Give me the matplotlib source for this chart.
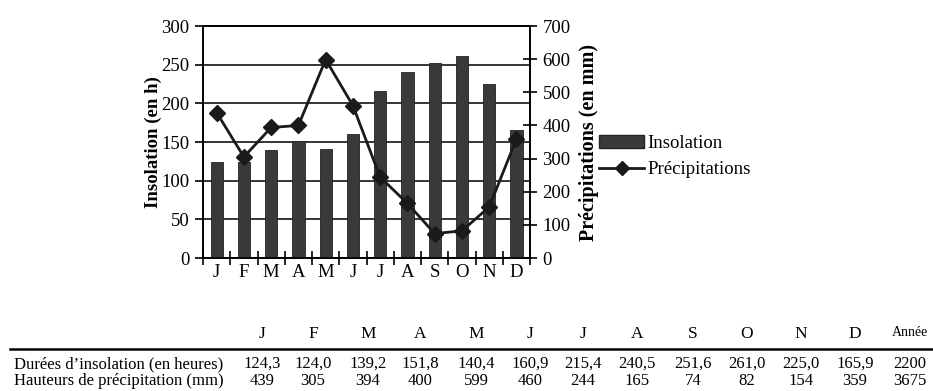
import numpy as np
import matplotlib
matplotlib.use("Agg")
import matplotlib.pyplot as plt
from matplotlib.lines import Line2D
from matplotlib.patches import Patch

months = ["J", "F", "M", "A", "M", "J", "J", "A", "S", "O", "N", "D"]
insolation = [124.3, 124.0, 139.2, 151.8, 140.4, 160.9, 215.4, 240.5, 251.6, 261.0, 225.0, 165.9]
precipitation = [439, 305, 394, 400, 599, 460, 244, 165, 74, 82, 154, 359]
total_insolation = "2200"
total_precipitation = "3675"

ins_labels = [f"{v:.1f}".replace(".", ",") for v in insolation]
pre_labels = [str(v) for v in precipitation]

plt.rcParams['font.family'] = ['Liberation Serif', 'DejaVu Serif']

fig = plt.figure(figsize=(9.33, 3.91), dpi=100)
ax = fig.add_axes([0.2176, 0.340, 0.3505, 0.5934])
ax2 = ax.twinx()

x = np.arange(len(months))
bar_col = "#3a3a3a"
ax.bar(x, insolation, width=0.45, color=bar_col, edgecolor="#222222", linewidth=0.6, zorder=3)
ax.set_xlim(-0.5, 11.5)
ax.set_ylim(0, 300)
ax.set_yticks(np.arange(0, 301, 50))
ax.yaxis.grid(True, color="black", linewidth=1.1, zorder=0)
ax.set_axisbelow(True)
ax.set_xticks(np.arange(-0.5, 12, 1))
ax.set_xticklabels([])
ax.set_xticks(x, minor=True)
ax.set_xticklabels(months, minor=True, fontsize=13.5)
ax.tick_params(axis="x", which="minor", length=0, pad=4)
ax.tick_params(axis="x", which="major", direction="inout", length=10, width=1.2)
ax.tick_params(axis="y", direction="out", length=6, width=1.2, labelsize=13.5, pad=4)
ax.set_ylabel("Insolation (en h)", fontsize=13.5, fontweight="bold", labelpad=-1)
for s in ax.spines.values():
    s.set_linewidth(1.2)

ax2.plot(x, precipitation, color="#1a1a1a", linewidth=2, marker="D", markersize=8, zorder=4)
ax2.set_ylim(0, 700)
ax2.set_yticks(np.arange(0, 701, 100))
ax2.tick_params(axis="y", direction="inout", length=10, width=1.2, labelsize=13.5, pad=4)
ax2.set_ylabel("Précipitations (en mm)", fontsize=14.5, fontweight="bold", labelpad=6)
for s in ax2.spines.values():
    s.set_linewidth(1.2)

handles = [Patch(facecolor=bar_col, edgecolor="#222222"),
           Line2D([0], [0], color="#1a1a1a", linewidth=2, marker="D", markersize=7)]
fig.legend(handles, ["Insolation", "Précipitations"], loc="center left",
           bbox_to_anchor=(0.624, 0.6), frameon=False, fontsize=13.5,
           handlelength=2.4, handletextpad=0.2, labelspacing=0.5)

# summary table under the chart
col_x = [262, 313, 368, 420, 476, 530, 583, 637, 693, 747, 801, 855]
W, H = 933, 391
for cx, m, a, b in zip(col_x, months, ins_labels, pre_labels):
    fig.text(cx / W, 1 - 334 / H, m, ha="center", va="center", fontsize=12.5)
    fig.text(cx / W, 1 - 364 / H, a, ha="center", va="center", fontsize=12)
    fig.text(cx / W, 1 - 381 / H, b, ha="center", va="center", fontsize=12)
fig.text(910 / W, 1 - 333 / H, "Année", ha="center", va="center", fontsize=10)
fig.text(910 / W, 1 - 364 / H, total_insolation, ha="center", va="center", fontsize=12)
fig.text(910 / W, 1 - 381 / H, total_precipitation, ha="center", va="center", fontsize=12)
fig.text(14 / W, 1 - 364 / H, "Durées d’insolation (en heures)", ha="left", va="center", fontsize=12)
fig.text(14 / W, 1 - 381 / H, "Hauteurs de précipitation (mm)", ha="left", va="center", fontsize=12)
fig.add_artist(Line2D([10 / W, 933 / W], [1 - 349 / H, 1 - 349 / H], color="black", linewidth=1.8))

fig.savefig("out.png", dpi=100)
